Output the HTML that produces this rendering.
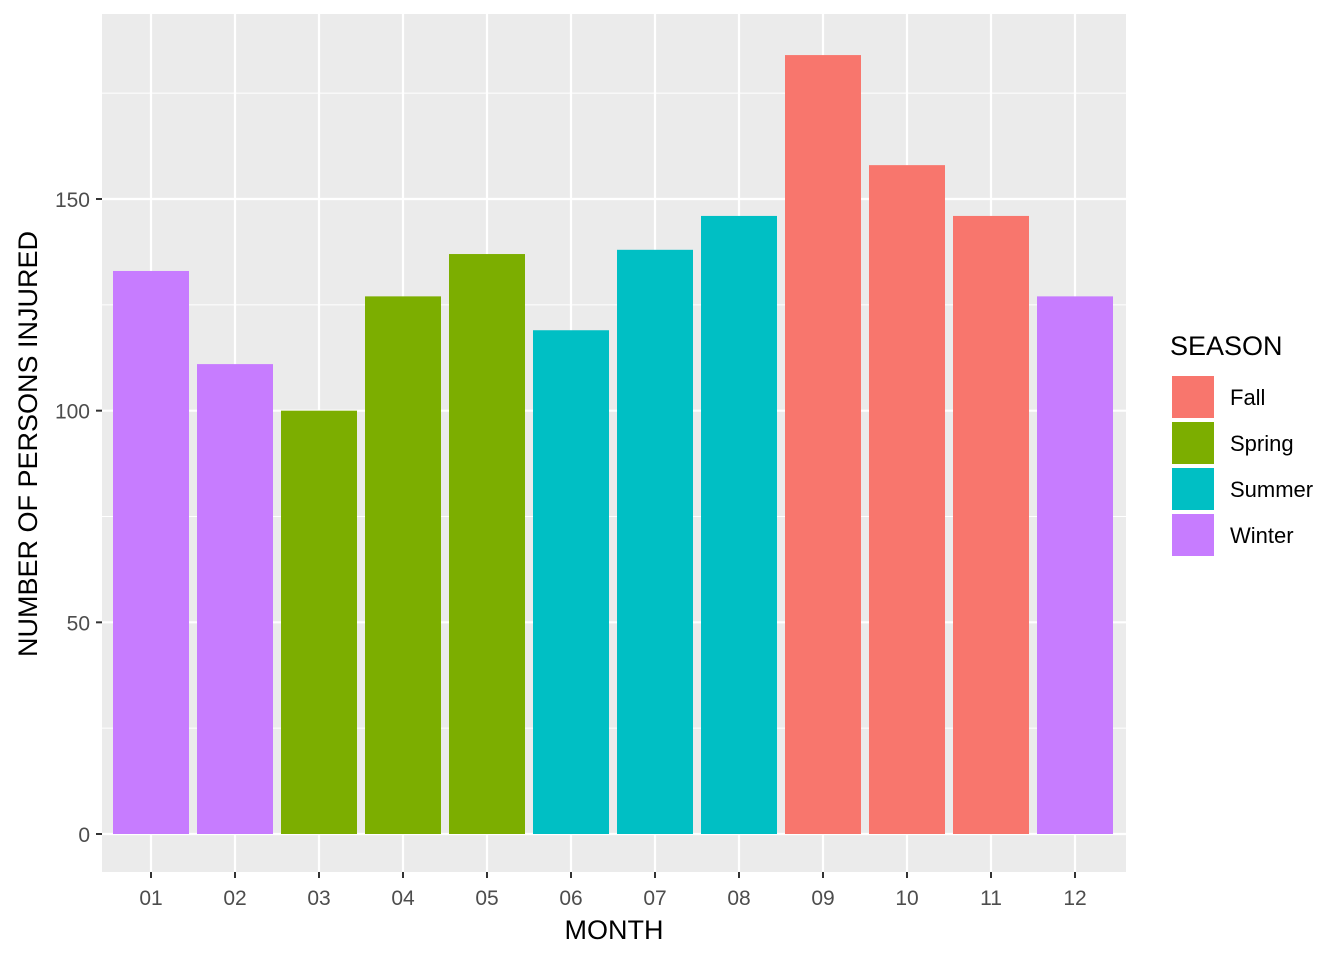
<!DOCTYPE html>
<html><head><meta charset="utf-8"><style>body{margin:0;background:#fff}svg{display:block;font-family:"Liberation Sans",sans-serif}</style></head>
<body>
<svg id="chart" width="1344" height="960">
<rect x="102" y="14" width="1024" height="858" fill="#ebebeb"/>
<g id="grid"></g><g id="bars"></g><g id="axes"></g>
<text x="614" y="939" text-anchor="middle" font-size="27" fill="#000">MONTH</text>
<text transform="translate(37,444) rotate(-90)" text-anchor="middle" font-size="27" fill="#000">NUMBER OF PERSONS INJURED</text>
<g id="legend">
<text x="1170" y="355" font-size="27" fill="#000">SEASON</text>
</g>
</svg>
<script>
const months=["01","02","03","04","05","06","07","08","09","10","11","12"];
const values=[133,111,100,127,137,119,138,146,184,158,146,127];
const seasons=["Winter","Winter","Spring","Spring","Spring","Summer","Summer","Summer","Fall","Fall","Fall","Winter"];
const yTicks=[0,50,100,150];
const legendSeasons=["Fall","Spring","Summer","Winter"];
const colors={Fall:"#f8766d",Spring:"#7cae00",Summer:"#00bfc4",Winter:"#c77cff"};
const NS="http://www.w3.org/2000/svg";
const y=v=>834-v*4.2333;
const x=i=>151+i*84;
function mk(tag,attrs,parent){const e=document.createElementNS(NS,tag);for(const k in attrs)e.setAttribute(k,attrs[k]);document.getElementById(parent).appendChild(e);return e;}
const grid="grid";
for(let v=25;v<=175;v+=50){const l=mk("line",{x1:102,x2:1126,y1:y(v),y2:y(v),stroke:"#fff","stroke-width":1},grid);

}
yTicks.forEach(v=>{const l=mk("line",{x1:102,x2:1126,y1:y(v),y2:y(v),stroke:"#fff","stroke-width":2.2},grid);


const t=mk("line",{x1:96,x2:102,y1:y(v),y2:y(v),stroke:"#333","stroke-width":2},"axes");


const tx=mk("text",{x:90,y:y(v)+8,"text-anchor":"end","font-size":21,fill:"#4d4d4d"},"axes");tx.textContent=v;

});
months.forEach((m,i)=>{const l=mk("line",{x1:x(i),x2:x(i),y1:14,y2:872,stroke:"#fff","stroke-width":2.2},grid);


const b=mk("rect",{x:x(i)-38,y:y(values[i]),width:76,height:y(0)-y(values[i]),fill:colors[seasons[i]]},"bars");


const t=mk("line",{x1:x(i),x2:x(i),y1:872,y2:878,stroke:"#333","stroke-width":2},"axes");


const tx=mk("text",{x:x(i),y:905,"text-anchor":"middle","font-size":21,fill:"#4d4d4d"},"axes");tx.textContent=m;

});
legendSeasons.forEach((s,i)=>{const k=mk("rect",{x:1171,y:375+i*46,width:44,height:44,fill:colors[s],stroke:"#fff","stroke-width":2},"legend");


const t=mk("text",{x:1230,y:405+i*46,"font-size":22,fill:"#000"},"legend");t.textContent=s;

});
</script>
</body></html>
